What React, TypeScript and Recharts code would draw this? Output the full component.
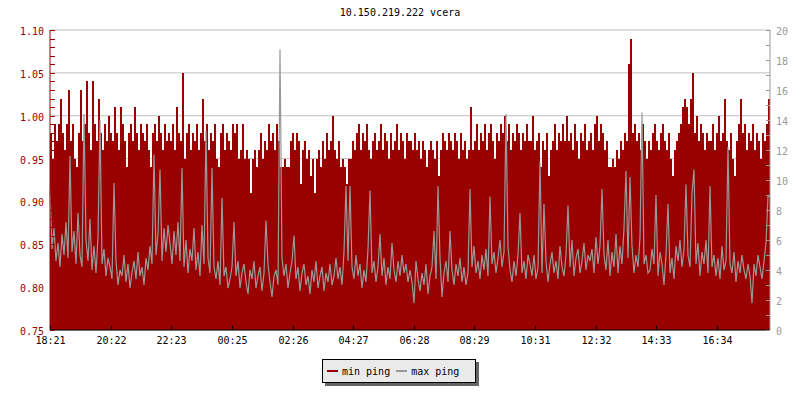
import { Area, CartesianGrid, ComposedChart, Line, XAxis, YAxis } from "recharts";

const FONT = "'DejaVu Sans Mono', monospace";
const RED = "#990000";
const GREY = "#999999";

// minutes after 18:21, one tick label every ~2 h
const timeTicks = [0, 121, 242, 364, 485, 606, 727, 848, 970, 1091, 1212, 1333];
const timeLabels = ["18:21", "20:22", "22:23", "00:25", "02:26", "04:27", "06:28", "08:29", "10:31", "12:32", "14:33", "16:34"];

// one sample every 4 minutes
const STEP = 4;

// min ping (left axis)
const minPing = [
  0.98, 0.95, 0.99, 0.97, 0.99, 1.02, 0.98, 0.96, 0.99, 1.03, 0.97, 0.99, 0.95, 0.94, 0.98, 1.03, 0.97, 0.99, 1.04, 0.98, 0.96, 1.04, 0.99, 0.97, 1.02, 0.98, 0.96, 0.99, 0.97, 1.0,
  0.98, 0.97, 1.01, 0.98, 0.96, 1.01, 0.99, 0.97, 0.94, 0.98, 0.99, 0.97, 1.01, 0.98, 0.96, 0.99, 0.98, 0.97, 0.99, 0.96, 0.94, 0.98, 0.99, 0.97, 1.0, 0.98, 0.96, 0.99, 0.97, 0.98,
  0.97, 0.99, 0.96, 1.01, 0.98, 0.97, 1.05, 0.95, 0.98, 0.99, 0.96, 0.98, 0.97, 0.99, 0.96, 0.98, 1.02, 0.97, 0.99, 0.96, 0.98, 0.97, 0.99, 0.95, 0.94, 0.98, 0.99, 0.96, 0.98, 0.97,
  0.96, 0.99, 0.98, 0.99, 0.95, 0.96, 0.99, 0.95, 0.96, 0.95, 0.91, 0.95, 0.96, 0.94, 0.96, 0.98, 0.95, 0.97, 0.96, 0.99, 0.97, 0.98, 0.96, 0.99, 0.97, 0.94, 0.94, 0.95, 0.94, 0.94,
  0.97, 0.98, 0.96, 0.98, 0.97, 0.92, 0.96, 0.97, 0.95, 0.96, 0.93, 0.95, 0.91, 0.95, 0.96, 0.94, 0.97, 0.95, 0.98, 0.96, 0.97, 1.0, 0.96, 0.95, 0.97, 0.94, 0.95, 0.94, 0.92, 0.95,
  0.95, 0.97, 0.96, 0.98, 0.99, 0.96, 0.98, 0.97, 0.99, 0.96, 0.95, 0.97, 0.98, 0.96, 0.97, 0.99, 0.96, 0.98, 0.97, 0.95, 0.98, 0.96, 0.97, 0.99, 0.96, 0.98, 0.97, 0.95, 0.98, 0.97,
  0.97, 0.96, 0.98, 0.96, 0.97, 0.95, 0.97, 0.96, 0.94, 0.96, 0.97, 0.96, 0.95, 0.97, 0.93, 0.96, 0.98, 0.97, 0.96, 0.98, 0.97, 0.96, 0.98, 0.97, 0.95, 0.98, 0.96, 0.97, 0.95, 0.96,
  1.01, 0.96, 0.97, 0.99, 0.96, 0.98, 0.97, 0.99, 0.96, 0.98, 0.99, 0.97, 0.95, 0.98, 0.97, 0.99, 0.98, 1.0, 0.97, 0.99, 0.96, 0.98, 0.97, 0.99, 0.98, 0.96, 0.98, 0.97, 0.99, 0.97,
  0.97, 1.0, 0.96, 0.97, 0.98, 0.94, 0.97, 0.96, 0.98, 0.93, 0.96, 0.97, 0.99, 0.96, 0.98, 0.97, 0.99, 0.97, 1.0, 0.97, 0.98, 0.96, 0.99, 0.97, 0.95, 0.98, 0.97, 0.99, 0.96, 0.97,
  0.98, 0.96, 0.99, 1.0, 0.97, 0.99, 0.98, 0.96, 0.97, 0.94, 0.94, 0.95, 0.94, 0.96, 0.95, 0.97, 0.96, 0.98, 0.97, 1.06, 1.09, 0.98, 0.99, 0.97, 0.98, 0.96, 0.99, 0.97, 0.95, 0.97,
  0.96, 0.98, 0.99, 0.97, 0.96, 0.98, 0.99, 0.97, 0.96, 0.98, 0.95, 0.93, 0.96, 0.97, 0.98, 0.99, 1.01, 1.02, 1.01, 0.99, 1.02, 1.05, 0.98, 1.0, 0.97, 0.99, 0.98, 0.96, 0.98, 0.97,
  0.97, 0.99, 0.96, 0.98, 1.0, 0.97, 0.98, 1.02, 0.97, 0.96, 0.98, 0.95, 0.93, 0.97, 0.99, 1.02, 0.98, 0.99, 0.96, 0.98, 0.97, 0.99, 0.96, 0.98, 0.97, 0.95, 0.98, 0.97, 0.99, 1.02,
];

// max ping (right axis)
const maxPing = [
  9.3, 5.4, 6.8, 4.6, 5.8, 4.2, 6.4, 5.0, 7.2, 4.8, 11.6, 5.2, 6.6, 4.4, 7.8, 5.0, 4.2, 14.4, 6.0, 4.6, 7.4, 4.0, 5.6, 3.8, 6.2, 14.0, 4.4, 5.4, 3.6, 4.8,
  4.2, 3.4, 9.8, 4.6, 3.0, 4.0, 3.6, 5.0, 3.2, 4.4, 2.8, 3.8, 4.6, 3.4, 5.2, 3.6, 4.2, 3.0, 4.8, 4.0, 5.6, 4.4, 11.7, 5.0, 6.4, 10.7, 4.6, 6.8, 5.2, 7.0,
  5.8, 4.4, 6.6, 5.0, 7.2, 4.6, 10.8, 4.2, 6.0, 3.8, 5.4, 4.6, 6.8, 4.0, 5.2, 3.6, 7.0, 4.4, 13.3, 4.8, 3.8, 10.8, 4.2, 3.4, 4.6, 3.0, 8.8, 3.6, 4.2, 2.8,
  3.4, 4.2, 7.2, 3.6, 4.6, 2.8, 3.8, 4.4, 3.2, 2.4, 4.0, 3.4, 4.6, 2.8, 3.6, 4.2, 2.6, 3.8, 7.3, 4.4, 3.2, 2.2, 3.6, 4.0, 3.0, 18.7, 4.8, 3.6, 4.4, 2.8,
  3.8, 4.6, 6.3, 3.4, 4.2, 2.6, 3.8, 4.4, 3.0, 3.6, 2.4, 4.0, 3.2, 4.6, 2.8, 3.6, 4.2, 2.6, 3.8, 3.2, 4.4, 3.0, 3.6, 4.8, 3.4, 4.2, 3.0, 5.2, 9.6, 4.6,
  9.6, 4.2, 3.4, 5.0, 3.6, 4.4, 2.8, 4.0, 3.2, 5.4, 9.3, 3.8, 4.6, 3.2, 4.2, 6.4, 3.6, 4.8, 3.0, 4.2, 3.4, 5.8, 4.0, 3.2, 4.6, 3.6, 5.0, 3.8, 4.4, 3.2,
  4.0, 3.2, 1.8, 4.6, 3.4, 2.6, 3.8, 3.0, 4.4, 2.4, 3.6, 4.2, 6.6, 3.4, 9.6, 4.8, 2.2, 3.8, 4.6, 3.2, 6.6, 4.0, 3.0, 4.4, 3.6, 4.8, 3.2, 4.2, 3.0, 3.8,
  9.4, 4.2, 5.6, 3.8, 4.6, 3.4, 5.0, 4.0, 5.4, 3.6, 8.9, 4.4, 5.2, 3.8, 4.8, 6.0, 4.2, 5.2, 14.4, 5.6, 4.0, 3.2, 4.6, 3.6, 5.0, 7.8, 3.8, 4.6, 3.4, 5.0,
  4.4, 3.6, 5.0, 3.4, 4.2, 11.2, 3.8, 8.4, 4.6, 3.2, 4.4, 5.2, 3.8, 4.6, 3.4, 5.6, 4.2, 3.6, 5.0, 8.3, 4.2, 6.0, 3.6, 4.8, 5.4, 3.8, 4.6, 5.8, 4.0, 5.0,
  4.6, 5.4, 3.8, 6.2, 4.4, 5.6, 9.4, 5.0, 4.0, 6.0, 3.6, 5.2, 4.2, 6.4, 3.8, 5.6, 4.4, 6.8, 10.6, 4.8, 10.2, 5.6, 3.8, 5.0, 4.2, 6.2, 14.5, 4.4, 5.0, 3.8,
  4.0, 5.4, 4.4, 9.0, 3.6, 5.2, 4.4, 3.0, 5.0, 8.4, 3.8, 4.8, 3.4, 5.6, 4.6, 6.0, 4.2, 5.4, 9.7, 5.0, 4.2, 9.1, 10.7, 4.4, 5.8, 3.6, 5.2, 4.4, 6.0, 3.8,
  9.6, 4.2, 5.0, 3.6, 4.8, 3.4, 5.6, 4.0, 4.6, 12.2, 4.4, 3.8, 5.2, 3.2, 4.6, 3.8, 5.0, 4.0, 3.4, 4.4, 3.6, 1.8, 4.4, 3.6, 5.0, 4.2, 3.4, 4.6, 5.8, 8.9,
];

const leftTicks = Array.from({ length: 36 }, (_, k) => Math.round((0.75 + k * 0.01) * 100) / 100);
const rightTicks = Array.from({ length: 21 }, (_, k) => k);
const gridValues = [0.75, 0.8, 0.85, 0.9, 0.95, 1.0, 1.05, 1.1];

const data = minPing.map((v, i) => ({ t: i * STEP, min: v, max: maxPing[i] }));
// close the last step at the right edge
data.push({ t: 1440, min: minPing[minPing.length - 1], max: maxPing[maxPing.length - 1] });

function LeftTick({ x, y, payload }: any) {
  const v = payload.value as number;
  const yy = Math.round(y) + 0.5;
  const major = Math.round(v * 100) % 5 === 0;
  return (
    <g>
      <line x1={x} x2={x + 5} y1={yy} y2={yy} stroke={RED} />
      {major && (
        <text x={x - 6} y={yy + 4} textAnchor="end" fill={RED} fontSize={10} fontFamily={FONT}>
          {v.toFixed(2)}
        </text>
      )}
    </g>
  );
}

function RightTick({ x, y, payload }: any) {
  const v = payload.value as number;
  const yy = Math.round(y) + 0.5;
  return (
    <g>
      <line x1={x - 4} x2={x} y1={yy} y2={yy} stroke={GREY} />
      {v % 2 === 0 && (
        <text x={x + 6} y={yy + 4} textAnchor="start" fill={GREY} fontSize={10} fontFamily={FONT}>
          {v}
        </text>
      )}
    </g>
  );
}

function TimeTick({ x, y, index }: any) {
  const xx = Math.round(x) + 0.5;
  return (
    <g>
      <line x1={xx} x2={xx} y1={y - 4} y2={y} stroke="#000" />
      <text x={xx} y={y + 14} textAnchor="middle" fill="#000" fontSize={10} fontFamily={FONT}>
        {timeLabels[index]}
      </text>
    </g>
  );
}

function LegendBox() {
  return (
    <div style={{ position: "absolute", left: 322, top: 359 }}>
      <div style={{ position: "absolute", left: 3, top: 3, width: 154, height: 24, background: "#666" }} />
      <div
        style={{
          position: "absolute",
          left: 0,
          top: 0,
          width: 152,
          height: 22,
          border: "1px solid #000",
          background: "#eaeaea",
          fontFamily: FONT,
          fontSize: 10,
          color: "#000",
          display: "flex",
          alignItems: "center",
          whiteSpace: "nowrap",
        }}
      >
        <span style={{ display: "inline-block", width: 11, height: 2, background: RED, marginLeft: 4, marginRight: 4 }} />
        <span>min ping</span>
        <span style={{ display: "inline-block", width: 11, height: 2, background: GREY, marginLeft: 6, marginRight: 4 }} />
        <span>max ping</span>
      </div>
    </div>
  );
}

export default function App() {
  return (
    <div style={{ position: "absolute", left: 0, top: 0, width: 800, height: 400, background: "#fff" }}>
      <style>{".recharts-area-area { shape-rendering: crispEdges; }"}</style>
      <div
        style={{
          position: "absolute",
          left: 0,
          top: 7,
          width: 800,
          textAlign: "center",
          fontFamily: FONT,
          fontSize: 10,
          lineHeight: "12px",
          color: "#000",
        }}
      >
        10.150.219.222 vcera
      </div>
      <ComposedChart width={800} height={400} data={data} margin={{ top: 30, right: 0, bottom: 0, left: 0 }}>
        <CartesianGrid yAxisId="left" vertical={false} horizontalValues={gridValues} stroke="#c0c0c0" />
        <Area
          yAxisId="left"
          type="stepAfter"
          dataKey="min"
          name="min ping"
          stroke="none"
          fill={RED}
          fillOpacity={1}
          isAnimationActive={false}
        />
        <Line
          yAxisId="right"
          type="linear"
          dataKey="max"
          name="max ping"
          stroke={GREY}
          strokeWidth={1.2}
          dot={false}
          isAnimationActive={false}
        />
        <XAxis
          dataKey="t"
          type="number"
          domain={[0, 1440]}
          ticks={timeTicks}
          interval={0}
          height={70}
          tickSize={0}
          tickMargin={0}
          tickLine={false}
          axisLine={{ stroke: "#000" }}
          tick={<TimeTick />}
        />
        <YAxis
          yAxisId="left"
          orientation="left"
          domain={[0.75, 1.1]}
          ticks={leftTicks}
          interval={0}
          width={50}
          tickSize={0}
          tickMargin={0}
          tickLine={false}
          axisLine={{ stroke: RED }}
          tick={<LeftTick />}
          allowDataOverflow
        />
        <YAxis
          yAxisId="right"
          orientation="right"
          domain={[0, 20]}
          ticks={rightTicks}
          interval={0}
          width={30}
          tickSize={0}
          tickMargin={0}
          tickLine={false}
          axisLine={{ stroke: GREY }}
          tick={<RightTick />}
          allowDataOverflow
        />
      </ComposedChart>
      <LegendBox />
    </div>
  );
}
